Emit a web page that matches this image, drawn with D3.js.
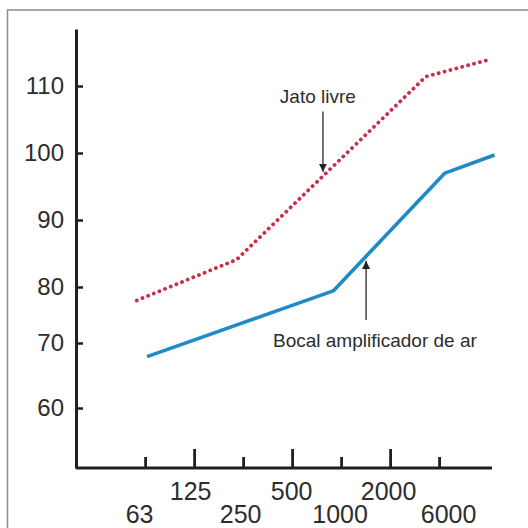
<!DOCTYPE html>
<html>
<head>
<meta charset="utf-8">
<script src="https://cdn.jsdelivr.net/npm/d3@7"></script>
<style>
  html, body { margin: 0; padding: 0; background: #fff; }
  svg { display: block; font-family: "Liberation Sans", Arial, sans-serif; }
</style>
</head>
<body>
<svg width="528" height="528"></svg>
<script>
// octave bands, positions 0..6 on the x axis
var bands = ["63", "125", "250", "500", "1000", "2000", "6000"];
var bandIdx = [0, 1, 2, 3, 4, 5, 6];

// y axis ticks (axis spacing is uneven in the original)
var yTicks = [60, 70, 80, 90, 100, 110];
var yExtent = [50.8, 118.5];

// Jato livre (dotted red), x in band units
var jatoX = [-0.17, 1.87, 5.73, 7.06];
var jatoY = [77.6, 84.1, 111.4, 114.0];

// Bocal amplificador de ar (solid blue)
var bocalX = [0.04, 3.84, 6.12, 7.13];
var bocalY = [67.9, 79.3, 97.0, 99.7];

// annotations: text anchor and arrow (x in band units, y values)
var jatoNote = { text: "Jato livre", x: 2.75, y: 107.4, ax: 3.63, ay1: 106.2, ay2: 97.2 };
var bocalNote = { text: "Bocal amplificador de ar", x: 2.61, y: 69.4, ax: 4.51, ay1: 74.1, ay2: 83.9 };

var svg = d3.select("svg");

// frame
svg.append("rect")
    .attr("x", 7.5).attr("y", 10)
    .attr("width", 600).attr("height", 600)
    .attr("fill", "none")
    .attr("stroke", "#8c8c8c")
    .attr("stroke-width", 1.5);

var x = d3.scaleLinear()
    .domain([-1.41, 7.08])
    .range([76, 492]);

// piecewise scale so ticks land where they are drawn in the picture
var y = d3.scaleLinear()
    .domain([yExtent[0]].concat(yTicks, [yExtent[1]]))
    .range([468, 408, 343, 287, 220, 153, 86, 29]);

var ink = "#231f20";
var textCol = "#2d2d2d";

// y axis
var gy = svg.append("g")
    .attr("transform", "translate(76,0)")
    .call(d3.axisLeft(y)
        .tickValues(yTicks)
        .tickSizeInner(-7)
        .tickSizeOuter(0)
        .tickPadding(12)
        .tickFormat(d3.format("d")));
gy.select(".domain").attr("stroke", ink).attr("stroke-width", 3);
gy.selectAll(".tick line").attr("stroke", ink).attr("stroke-width", 2.5);
gy.selectAll(".tick text")
    .attr("fill", textCol)
    .style("font-size", "24px")
    .style("font-family", "Liberation Sans, Arial, sans-serif");

// x axis
var labelNudge = [-6, -4, -3, -1, -1.5, -2, 9];
var gx = svg.append("g")
    .attr("transform", "translate(0,468)")
    .call(d3.axisBottom(x)
        .tickValues(bandIdx)
        .tickSizeInner(-11)
        .tickSizeOuter(0)
        .tickFormat(function(d){ return bands[d]; }));
gx.select(".domain").attr("stroke", ink).attr("stroke-width", 3)
    .attr("d", "M" + x.range()[0] + ",0H" + x.range()[1]);
gx.selectAll(".tick line")
    .attr("stroke", ink)
    .attr("stroke-width", 2.8)
    .attr("y2", function(d){ return d % 2 ? -19 : -11; });
gx.selectAll(".tick text")
    .attr("fill", textCol)
    .attr("dy", "0")
    .attr("y", function(d){ return d % 2 ? 31.5 : 55; })
    .attr("dx", function(d){ return labelNudge[d]; })
    .style("font-size", "25px")
    .style("font-family", "Liberation Sans, Arial, sans-serif");

// lines
var line = d3.line()
    .x(function(d){ return x(d[0]); })
    .y(function(d){ return y(d[1]); });

svg.append("path")
    .datum(d3.zip(bocalX, bocalY))
    .attr("d", line)
    .attr("fill", "none")
    .attr("stroke", "#1e8bc6")
    .attr("stroke-width", 3.6)
    .attr("stroke-linejoin", "round");

svg.append("path")
    .datum(d3.zip(jatoX, jatoY))
    .attr("d", line)
    .attr("fill", "none")
    .attr("stroke", "#c92f45")
    .attr("stroke-width", 3.8)
    .attr("stroke-linecap", "round")
    .attr("stroke-dasharray", "0.1 6");

// arrows
svg.append("defs").append("marker")
    .attr("id", "head")
    .attr("viewBox", "0 0 10 10")
    .attr("refX", 10).attr("refY", 5)
    .attr("markerWidth", 5.5).attr("markerHeight", 5.5)
    .attr("markerUnits", "strokeWidth")
    .attr("orient", "auto")
    .append("path")
    .attr("d", "M0,0L10,5L0,10Z")
    .attr("fill", "#222");

[jatoNote, bocalNote].forEach(function(n){
    svg.append("line")
        .attr("x1", x(n.ax)).attr("x2", x(n.ax))
        .attr("y1", y(n.ay1)).attr("y2", y(n.ay2))
        .attr("stroke", "#444")
        .attr("stroke-width", 1.5)
        .attr("marker-end", "url(#head)");
    svg.append("text")
        .attr("x", x(n.x)).attr("y", y(n.y))
        .attr("fill", textCol)
        .style("font-size", "19px")
        .text(n.text);
});
</script>
</body>
</html>
